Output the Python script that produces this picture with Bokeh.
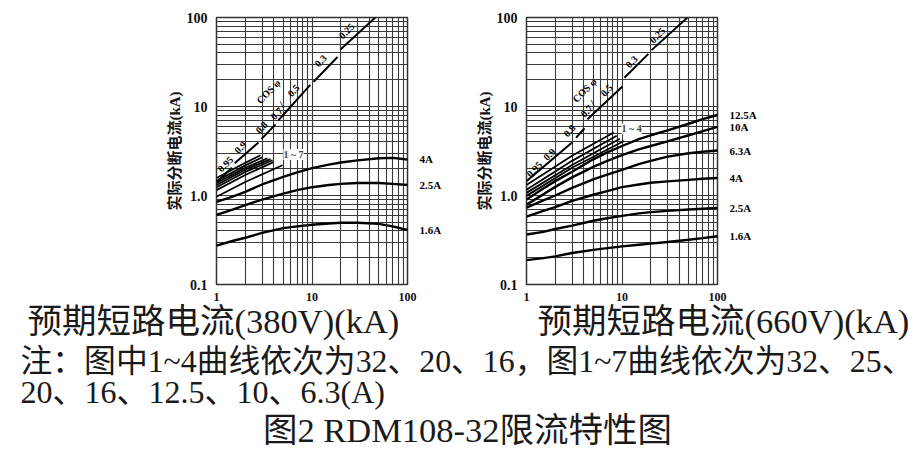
from bokeh.plotting import figure
from bokeh.models import Range1d, FixedTicker, ColumnDataSource, LabelSet, Label, LogAxis
from bokeh.layouts import column, row
from bokeh.core.properties import value
from bokeh.embed import file_html
from bokeh.resources import INLINE

nan = float("nan")

# ---------------- data ----------------
x_major = [1, 10, 100]
x_labels = ["1", "10", "100"]
y_major = [0.1, 1, 10, 100]
y_labels = ["0.1", "1.0", "10", "100"]

curve_x = [1, 1.5, 2, 3, 5, 7, 10, 15, 20, 30, 50, 70, 100]

# 380V chart: rated-current curves
c380_names = ["4A", "2.5A", "1.6A"]
c380_4A = [0.85, 0.98, 1.10, 1.33, 1.62, 1.82, 2.03, 2.22, 2.35, 2.48, 2.62, 2.65, 2.54]
c380_2_5A = [0.605, 0.70, 0.78, 0.90, 1.05, 1.15, 1.24, 1.31, 1.35, 1.38, 1.38, 1.35, 1.31]
c380_1_6A = [0.273, 0.31, 0.335, 0.38, 0.43, 0.45, 0.47, 0.485, 0.495, 0.495, 0.48, 0.45, 0.41]
# 380V chart: curves 1~7 (32, 25, 20, 16, 12.5, 10, 6.3 A)
grp380_x = [[1, 2, 2.89], [1, 2, 3.03], [1, 2, 3.42], [1, 2, 3.68],
            [1, 2, 3.86], [1, 2, 3.95], [1, 2, 4.91]]
grp380_y = [[1.57, 2.33, 2.83], [1.45, 2.18, 2.69], [1.38, 2.05, 2.62], [1.31, 1.95, 2.56],
            [1.24, 1.84, 2.49], [1.15, 1.70, 2.37], [0.97, 1.42, 2.19]]
# 380V chart: peak line (cos phi segments)
diag380_x = [1.0, 1.45, nan, 1.55, 2.75, nan, 2.95, 4.15, nan, 4.45, 9.6, nan, 10.4, 18.5, nan, 20.0, 46.0]
diag380_y = [1.42, 2.05, nan, 2.3, 3.95, nan, 4.3, 6.3, nan, 7.0, 17.5, nan, 19.0, 36.0, nan, 44.0, 100.0]
cos_labels = ["0.95", "0.9", "0.8", "0.7", "/", "COS φ", "0.5", "0.3", "0.25"]

# 660V chart: rated-current curves
c660_names = ["12.5A", "10A", "6.3A", "4A", "2.5A", "1.6A"]
c660_12_5A = [0.90, 1.2, 1.45, 1.85, 2.55, 3.05, 3.6, 4.3, 4.75, 5.4, 6.4, 7.2, 8.02]
c660_10A = [0.79, 1.03, 1.25, 1.6, 2.1, 2.45, 2.85, 3.3, 3.6, 4.05, 4.75, 5.3, 5.9]
c660_6_3A = [0.73, 0.88, 1.0, 1.22, 1.52, 1.72, 1.94, 2.25, 2.45, 2.73, 2.98, 3.1, 3.2]
c660_4A = [0.58, 0.67, 0.74, 0.87, 1.02, 1.12, 1.24, 1.33, 1.39, 1.44, 1.5, 1.54, 1.57]
c660_2_5A = [0.365, 0.39, 0.42, 0.458, 0.52, 0.555, 0.59, 0.63, 0.65, 0.672, 0.695, 0.71, 0.727]
c660_1_6A = [0.188, 0.198, 0.207, 0.226, 0.245, 0.256, 0.268, 0.28, 0.288, 0.30, 0.318, 0.332, 0.349]
# 660V chart: curves 1~4 (32, 20, 16 A)
grp660_x = [[1, 3, 8.2], [1, 3, 8.8], [1, 3, 9.5], [1, 3, 10.5]]
grp660_y = [[1.31, 2.8, 5.1], [1.16, 2.45, 4.7], [1.07, 2.2, 4.35], [0.99, 2.05, 4.1]]
# 660V chart: peak line
diag660_x = [1.0, 3.0, nan, 3.3, 4.05, nan, 4.35, 10.1, nan, 10.6, 18.9, nan, 20.4, 48.5]
diag660_y = [1.45, 3.95, nan, 4.45, 5.7, nan, 7.2, 16.8, nan, 21.0, 39.0, nan, 43.0, 100.0]

# label positions (layout)
pos380_x = [1.24, 1.78, 2.96, 4.25, 4.8, 3.5, 6.4, 12.3, 23.0]
pos380_y = [2.25, 3.47, 5.82, 8.35, 10.6, 14.7, 15.1, 32.6, 70.6]
pos660_x = [1.21, 1.74, 2.82, 4.25, 4.91, 4.05, 6.88, 12.6, 23.5]
pos660_y = [1.97, 2.9, 5.34, 8.89, 10.9, 15.2, 15.2, 31.8, 63.3]

SERIF = "Liberation Serif"
MIX = "'Liberation Serif', 'Noto Sans CJK SC'"
GRID = "#3a3a3a"

minor_x = [m * d for d in (1, 10) for m in range(2, 10)]
minor_y = [m * d for d in (0.1, 1, 10) for m in range(2, 10)]


def make_chart(width, height, mb_left, mb_right, mb_top, mb_bottom):
    p = figure(width=width, height=height, x_axis_type="log", y_axis_type="log",
               x_range=Range1d(1, 100), y_range=Range1d(0.1, 100),
               toolbar_location=None, output_backend="svg",
               min_border_left=mb_left, min_border_right=mb_right,
               min_border_top=mb_top, min_border_bottom=mb_bottom)
    p.xaxis.ticker = FixedTicker(ticks=x_major, minor_ticks=minor_x)
    p.yaxis.ticker = FixedTicker(ticks=y_major, minor_ticks=minor_y)
    p.xaxis.major_label_overrides = {t: s for t, s in zip(x_major, x_labels)}
    p.yaxis.major_label_overrides = {t: s for t, s in zip(y_major, y_labels)}
    for ax in (p.xaxis, p.yaxis):
        ax.axis_line_color = None
        ax.major_tick_line_color = None
        ax.minor_tick_line_color = None
        ax.major_label_text_font = SERIF
        ax.major_label_text_font_style = "bold"
        ax.major_label_text_color = "#111111"
    p.xaxis.major_label_text_font_size = "12px"
    p.xaxis.major_label_standoff = 2
    p.yaxis.major_label_text_font_size = "14px"
    p.yaxis.major_label_standoff = 3
    p.yaxis.axis_label = "实际分断电流(kA)"
    p.yaxis.axis_label_text_font = MIX
    p.yaxis.axis_label_text_font_style = "bold"
    p.yaxis.axis_label_text_font_size = "15px"
    p.yaxis.axis_label_text_color = "#111111"
    p.yaxis.axis_label_standoff = 1
    for g in (p.xgrid, p.ygrid):
        g.grid_line_color = GRID
        g.grid_line_width = 1.1
        g.minor_grid_line_color = GRID
        g.minor_grid_line_width = 1.1
    p.outline_line_color = "#333333"
    p.outline_line_width = 1.5
    return p


def add_curves(p, curves, names, grp_x, grp_y, diag_x, diag_y, pos_x, pos_y, grp_text, grp_pos):
    for c in curves:
        p.line(curve_x, c, line_color="black", line_width=2.4)
    p.multi_line(grp_x, grp_y, line_color="black", line_width=1.8)
    p.line(diag_x, diag_y, line_color="black", line_width=2.0)
    # curve-end names shown as labels of a right-hand axis at the curves' last values
    ends = [c[-1] for c in curves]
    end_axis = LogAxis(ticker=FixedTicker(ticks=ends),
                       major_label_overrides={e: n for e, n in zip(ends, names)})
    end_axis.axis_line_color = None
    end_axis.major_tick_line_color = None
    end_axis.minor_tick_line_color = None
    end_axis.major_label_standoff = 6
    end_axis.major_label_text_font = SERIF
    end_axis.major_label_text_font_style = "bold"
    end_axis.major_label_text_font_size = "11px"
    end_axis.major_label_text_color = "black"
    p.add_layout(end_axis, "right")
    cos_src = ColumnDataSource(dict(x=pos_x, y=pos_y, t=cos_labels))
    p.add_layout(LabelSet(source=cos_src, x="x", y="y", text="t", angle=0.8,
                          text_baseline="middle", text_align="center",
                          text_font=value(SERIF), text_font_style="bold",
                          text_font_size="10px", text_color="black"))
    p.add_layout(Label(x=grp_pos[0], y=grp_pos[1], text=grp_text, text_baseline="middle",
                       text_align="center", text_font=SERIF, text_font_style="bold",
                       text_font_size="10px", background_fill_color="white"))


p1 = make_chart(460, 303, 216, 53, 16, 18)
add_curves(p1, [c380_4A, c380_2_5A, c380_1_6A], c380_names, grp380_x, grp380_y,
           diag380_x, diag380_y, pos380_x, pos380_y, "1 ~ 7", (6.4, 2.89))

p2 = make_chart(459, 303, 66, 202, 17, 15)
add_curves(p2, [c660_12_5A, c660_10A, c660_6_3A, c660_4A, c660_2_5A, c660_1_6A], c660_names,
           grp660_x, grp660_y, diag660_x, diag660_y, pos660_x, pos660_y, "1 ~ 4", (12.6, 5.6))

# bottom texts
p3 = figure(width=919, height=147, x_range=Range1d(0, 919), y_range=Range1d(147, 0),
            x_axis_type=None, y_axis_type=None, toolbar_location=None, output_backend="svg",
            min_border=0)
p3.grid.visible = False
p3.outline_line_color = None


def add_text(x, y, text, size, align="left"):
    p3.add_layout(Label(x=x, y=y, text=text, text_font=MIX, text_font_size=size,
                        text_baseline="middle", text_align=align, text_color="#1a1a1a"))


add_text(27, 17, "预期短路电流(380V)(kA)", "34.5px")
add_text(537, 17, "预期短路电流(660V)(kA)", "34.5px")
add_text(20, 58, "注：图中1~4曲线依次为32、20、16，图1~7曲线依次为32、25、", "31.8px")
add_text(20, 88, "20、16、12.5、10、6.3(A)", "32px")
add_text(467, 126, "图2 RDM108-32限流特性图", "34.5px", align="center")

layout = column(row(p1, p2), p3)
open("out.html", "w").write(file_html(layout, INLINE))
